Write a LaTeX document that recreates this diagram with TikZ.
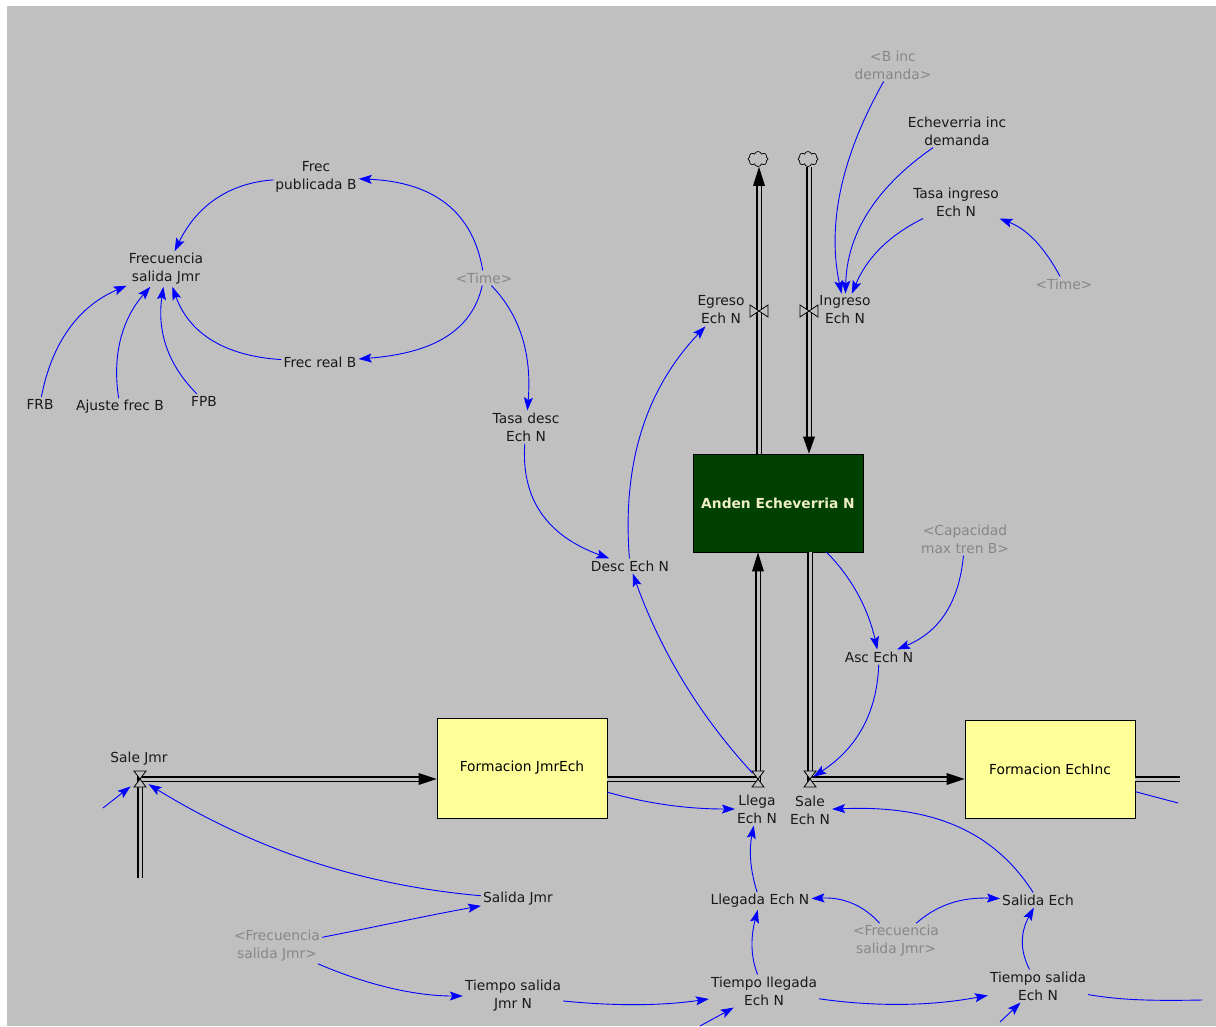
\documentclass[tikz,border=0pt]{standalone}
\usepackage{fontspec}
\setmainfont{DejaVu Sans}
\usetikzlibrary{arrows.meta,shapes.symbols}
\definecolor{bgc}{RGB}{192,192,192}
\definecolor{linkc}{RGB}{0,0,255}
\definecolor{txtc}{RGB}{25,25,25}
\definecolor{ghostc}{RGB}{135,135,135}
\definecolor{levelg}{RGB}{0,64,0}
\definecolor{levely}{RGB}{255,255,153}
\definecolor{levelt}{RGB}{238,238,196}
\newcommand\varsize{\fontsize{13.8pt}{18pt}\selectfont}
% bow-tie valves: on a horizontal pipe and on a vertical pipe
\newcommand\hvalve[1]{%
  \draw[valve] (#1) -- ++(-6,-8) -- ++(12,0) -- cycle;
  \draw[valve] (#1) -- ++(-6,8) -- ++(12,0) -- cycle;}
\newcommand\vvalve[1]{%
  \draw[valve] (#1) -- ++(-9,-6) -- ++(0,12) -- cycle;
  \draw[valve] (#1) -- ++(9,-6) -- ++(0,12) -- cycle;}

\begin{document}
\begin{tikzpicture}[x=1pt,y=-1pt,
  var/.style={font=\varsize, text=txtc, align=center, inner sep=2pt},
  ghost/.style={var, text=ghostc},
  level/.style={draw=black, line width=0.8pt, minimum width=170pt,
    minimum height=98pt, font=\varsize, align=center, inner sep=2pt},
  link/.style={draw=linkc, line width=0.9pt,
    -{Stealth[length=13pt,width=9pt,inset=2.5pt]}},
  plainlink/.style={draw=linkc, line width=0.9pt},
  pipe/.style={draw=black, line width=1.1pt, double=bgc,
    double distance=3pt, line join=miter},
  pipetip/.style={fill=black},
  valve/.style={draw=black, line width=0.8pt, fill=bgc},
  sky/.style={cloud, cloud puffs=8, cloud ignores aspect, draw=black,
    line width=0.7pt, minimum width=20pt, minimum height=15pt, inner sep=0pt}
]
\useasboundingbox (0,0) rectangle (1216,1026);
\fill[white] (0,0) rectangle (1216,1026);
\fill[bgc] (7,6) rectangle (1216,1026);

% ---- levels ----
\node[level, fill=levelg, text=levelt, font=\varsize\bfseries] (anden) at (778,503) {Anden Echeverria N};
\node[level, fill=levely, minimum height=100pt] (fjmr) at (522,768) {Formacion JmrEch};
\node[level, fill=levely] (fech) at (1050,769) {Formacion EchInc};

% ---- sources and sinks ----
\node[sky] (sky1) at (758,159) {};
\node[sky] (sky2) at (808,159) {};

% ---- valves ----
\coordinate (vsj) at (140,779);
\coordinate (vll) at (758,779);
\coordinate (vsa) at (810,779);
\coordinate (veg) at (759,311);
\coordinate (vin) at (809,311);

% ---- loose ends ----
\coordinate (sjsrc) at (140,878);
\coordinate (jmrin) at (103,808);
\coordinate (echout) at (1180,779);
\coordinate (fechout) at (1178,803);
\coordinate (tsechout) at (1202,1000);
\coordinate (tllin) at (700,1026);
\coordinate (tsechin) at (1000,1022);

% ---- pipes ----
\draw[pipe, shorten >=16pt] (sjsrc) -- (vsj) -- (fjmr.west |- vsj);
\fill[pipetip] (fjmr.west |- vsj) -- ++(-18,-6) -- ++(0,12) -- cycle;
\draw[pipe, shorten >=17pt] (fjmr.east |- vll) -- (vll) -- (vll |- anden.south);
\fill[pipetip] (vll |- anden.south) -- ++(-6,19) -- ++(12,0) -- cycle;
\draw[pipe, shorten >=16pt] (vsa |- anden.south) -- (vsa) -- (fech.west |- vsa);
\fill[pipetip] (fech.west |- vsa) -- ++(-18,-6) -- ++(0,12) -- cycle;
\draw[pipe] (fech.east |- vsa) -- (echout);
\draw[pipe, shorten >=17pt] (veg |- anden.north) -- (veg) -- (veg |- sky1.south);
\fill[pipetip] (veg |- sky1.south) -- ++(-6,19) -- ++(12,0) -- cycle;
\draw[pipe, shorten >=15pt] (vin |- sky2.south) -- (vin) -- (vin |- anden.north);
\fill[pipetip] (vin |- anden.north) -- ++(-6,-17) -- ++(12,0) -- cycle;

\hvalve{vsj}
\hvalve{vll}
\hvalve{vsa}
\vvalve{veg}
\vvalve{vin}

% ---- variables ----
\node[var] (frecpub) at (316,177) {Frec\\publicada B};
\node[var] (frecsal) at (166,269) {Frecuencia\\salida Jmr};
\node[ghost] (time1) at (484,278) {<Time>};
\node[var] (frecreal) at (320,362) {Frec real B};
\node[var] (frb) at (40,404) {FRB};
\node[var] (ajuste) at (120,407) {Ajuste frec B};
\node[var] (fpb) at (204,401) {FPB};
\node[var] (tasadesc) at (526,427) {Tasa desc\\Ech N};
\node[var] (desc) at (630,566) {Desc Ech N};
\node[var] (egreso) at (721,310) {Egreso\\Ech N};
\node[var] (ingreso) at (845,310) {Ingreso\\Ech N};
\node[ghost] (binc) at (893,65) {<B inc\\demanda>};
\node[var] (echinc) at (957,131) {Echeverria inc\\demanda};
\node[var] (tasaing) at (956,202) {Tasa ingreso\\Ech N};
\node[ghost] (time2) at (1064,284) {<Time>};
\node[ghost] (capac) at (965,539) {<Capacidad\\max tren B>};
\node[var] (asc) at (879,657) {Asc Ech N};
\node[var] (salejmr) at (139,759) {Sale Jmr};
\node[var] (llega) at (757,809) {Llega\\Ech N};
\node[var] (sale) at (810,810) {Sale\\Ech N};
\node[var] (salidajmr) at (518,899) {Salida Jmr};
\node[ghost] (frec2) at (277,946) {<Frecuencia\\salida Jmr>};
\node[var] (tsjmr) at (513,996) {Tiempo salida\\Jmr N};
\node[var] (llegada) at (760,901) {Llegada Ech N};
\node[ghost] (frec3) at (896,941) {<Frecuencia\\salida Jmr>};
\node[var] (salidaech) at (1038,900) {Salida Ech};
\node[var] (tllegada) at (764,991) {Tiempo llegada\\Ech N};
\node[var] (tsech) at (1038,986) {Tiempo salida\\Ech N};

% ---- causal links ----
\draw[link] (time1) .. controls (473,212) and (434,182) .. (frecpub);
\draw[link] (time1) .. controls (472,330) and (435,353) .. (frecreal);
\draw[link] (time1) .. controls (520,315) and (532,354) .. (tasadesc);
\draw[link] (frecpub) .. controls (228,183) and (196,207) .. (frecsal);
\draw[link] (frecreal) .. controls (224,356) and (189,333) .. (frecsal);
\draw[link] (frb) .. controls (52,342) and (79,306) .. (frecsal);
\draw[link] (ajuste) .. controls (112,355) and (122,319) .. (frecsal);
\draw[link] (fpb) .. controls (167,364) and (157,330) .. (frecsal);
\draw[link] (tasadesc) .. controls (521,497) and (545,535) .. (desc);
\draw[link] (desc) .. controls (622,463) and (646,389) .. (egreso);
\draw[link, shorten <=8pt] (vll) .. controls (698,714) and (660,649) .. (desc);
\draw[link] (binc) .. controls (841,157) and (827,225) .. (ingreso);
\draw[link] (echinc) .. controls (872,190) and (847,237) .. (ingreso);
\draw[link] (tasaing) .. controls (886,237) and (866,260) .. (ingreso);
\draw[link] (time2) .. controls (1045,248) and (1027,229) .. (tasaing);
\draw[link] (anden) .. controls (854,580) and (869,612) .. (asc);
\draw[link] (capac) .. controls (959,603) and (939,632) .. (asc);
\draw[link, shorten >=4pt] (asc) .. controls (877,713) and (857,748) .. (vsa);
\draw[link] (fjmr) .. controls (649,804) and (688,809) .. (llega);
\draw[link] (llegada) .. controls (750,870) and (749,850) .. (llega);
\draw[link] (salidaech) .. controls (993,830) and (931,805) .. (sale);
\draw[link] (frec3) .. controls (863,905) and (843,897) .. (llegada);
\draw[link] (frec3) .. controls (937,905) and (961,897) .. (salidaech);
\draw[link] (tllegada) .. controls (750,955) and (751,936) .. (llegada);
\draw[link] (tsech) .. controls (1019,949) and (1021,931) .. (salidaech);
\draw[link, shorten >=10pt] (salidajmr) .. controls (359,885) and (254,849) .. (vsj);
\draw[link, shorten >=12pt] (jmrin) -- (vsj);
\draw[link] (frec2) .. controls (370,928) and (420,917) .. (salidajmr);
\draw[link] (frec2) .. controls (360,982) and (410,996) .. (tsjmr);
\draw[link] (tsjmr) .. controls (614,1006) and (660,1006) .. (tllegada);
\draw[link] (tllegada) .. controls (877,1007) and (931,1006) .. (tsech);
\draw[plainlink] (tsech) .. controls (1120,1000) and (1150,1001) .. (tsechout);
\draw[link] (tllin) -- (tllegada);
\draw[link] (tsechin) -- (tsech);
\draw[plainlink] (fech) -- (fechout);
\end{tikzpicture}
\end{document}
